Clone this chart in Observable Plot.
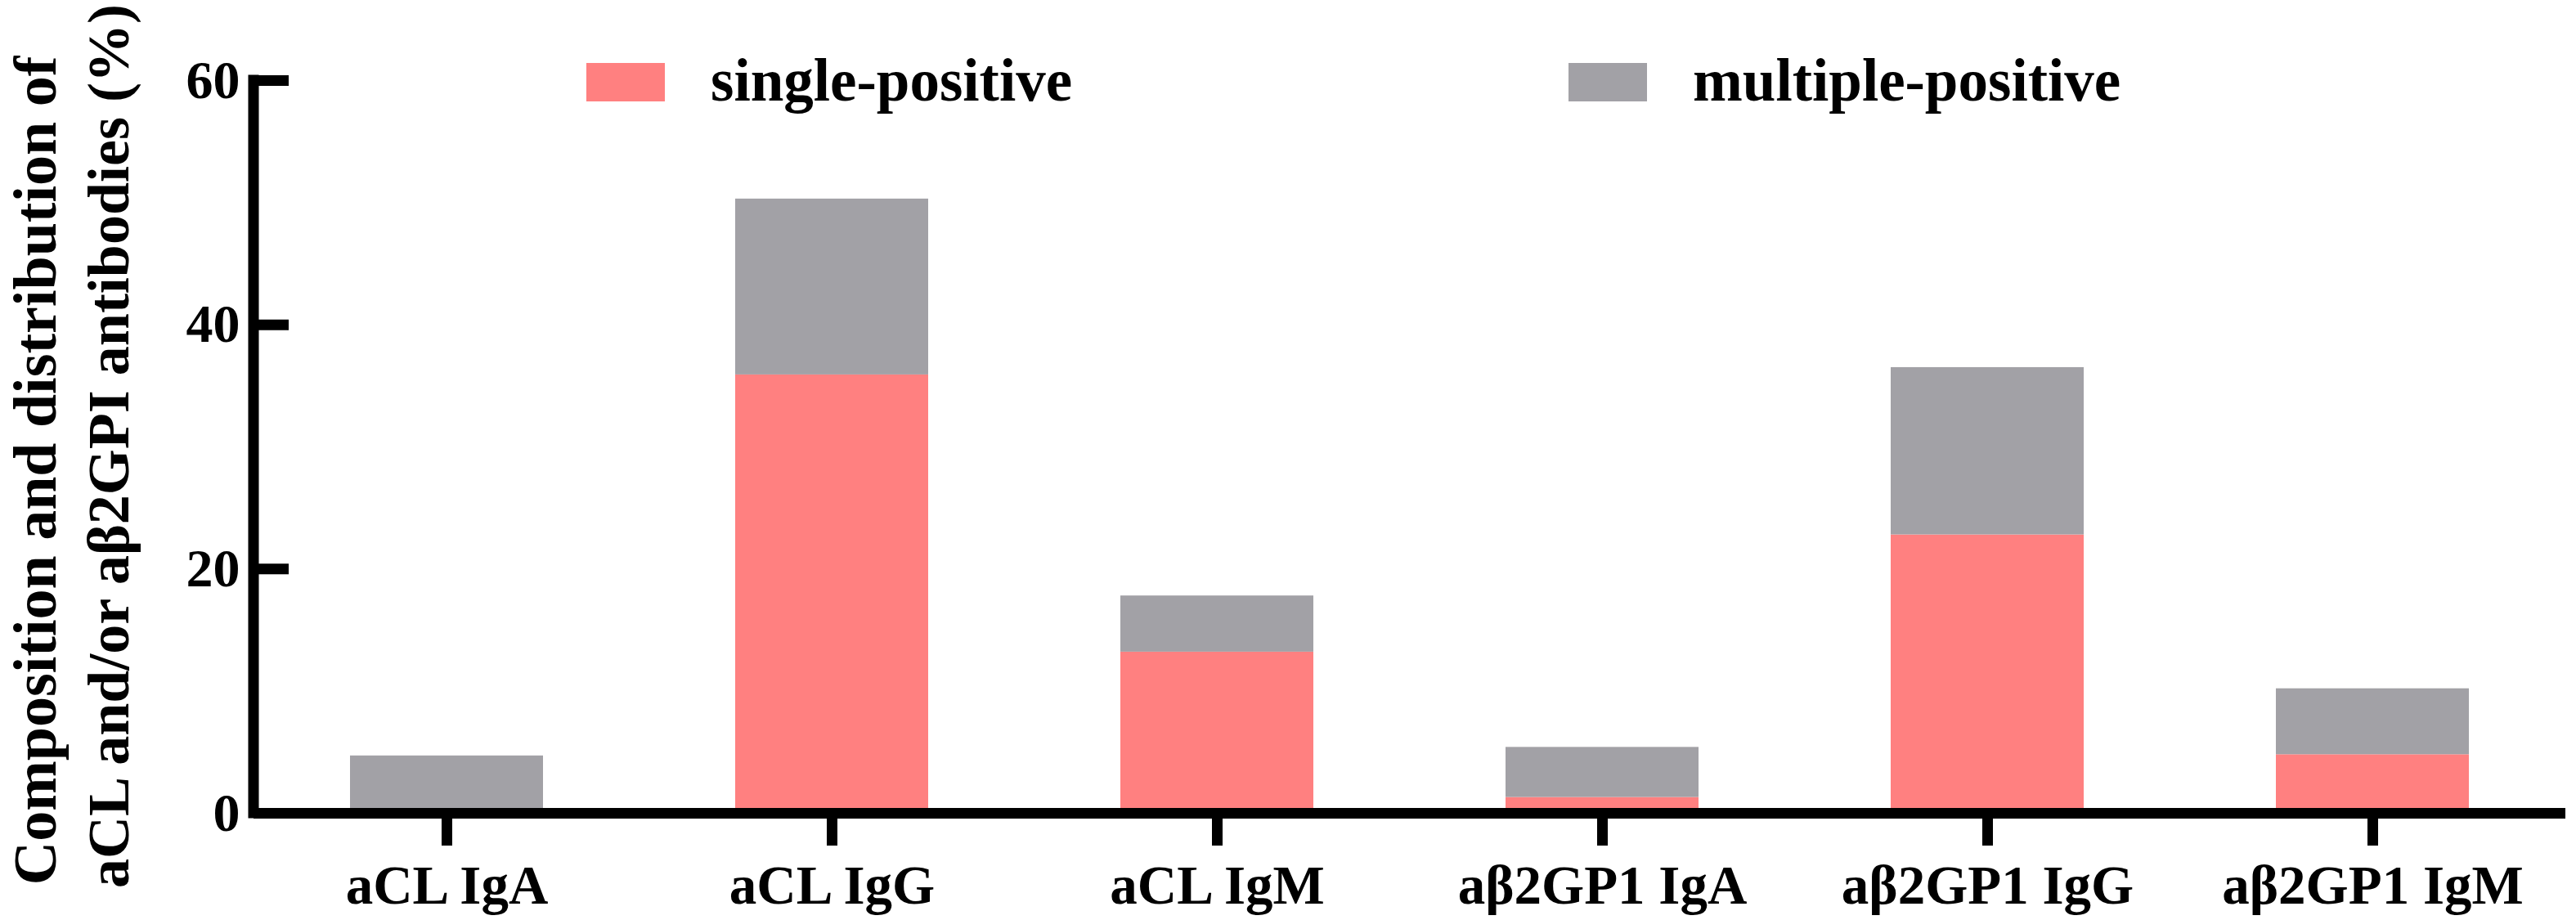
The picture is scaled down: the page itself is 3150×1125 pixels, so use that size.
<!DOCTYPE html>
<html>
<head>
<meta charset="utf-8">
<script src="https://cdn.jsdelivr.net/npm/d3@7"></script>
<script src="https://cdn.jsdelivr.net/npm/@observablehq/plot@0.6"></script>
<style>
  body { margin: 0; background: #fff; }
  #wrap { position: relative; width: 3150px; height: 1125px; font-family: 'Liberation Serif', 'Times New Roman', serif; font-weight: bold; }
  #wrap svg { display: block; font-family: 'Liberation Serif', 'Times New Roman', serif !important; font-weight: bold; }
  #wrap svg text { font-family: 'Liberation Serif', 'Times New Roman', serif; }
  .legend-item { position: absolute; top: 0; height: 150px; }
  .sw { position: absolute; left: 0; top: 77px; width: 96px; height: 47px; }
  .lb { position: absolute; left: 152px; top: 62px; font-size: 73px; line-height: 73px; white-space: nowrap; color: #000; font-family: 'Liberation Serif', 'Times New Roman', serif; }
</style>
</head>
<body>
<div id="wrap"></div>
<script>
const categories = ["aCL IgA", "aCL IgG", "aCL IgM", "aβ2GP1 IgA", "aβ2GP1 IgG", "aβ2GP1 IgM"];
const seriesNames = ["single-positive", "multiple-positive"];
const singlePositive = [0.3, 35.9, 13.2, 1.3, 22.8, 4.8];
const multiplePositive = [4.4, 14.4, 4.6, 4.1, 13.7, 5.4];
const yTicks = [0, 20, 40, 60];
const seriesColors = ["#FF8080", "#A2A1A6"];
const titleLines = ["Composition and distribution of", "aCL and/or aβ2GPI antibodies (%)"];

const seriesValues = [singlePositive, multiplePositive];
const table = [];
categories.forEach((c, i) => {
  seriesNames.forEach((s, j) => table.push({category: c, series: s, value: seriesValues[j][i]}));
});

const W = 3150, H = 1125;
const mL = 310, mR = 13, mT = 98, mB = 131;
const plotW = W - mL - mR;

const chart = Plot.plot({
  width: W,
  height: H,
  marginLeft: mL,
  marginRight: mR,
  marginTop: mT,
  marginBottom: mB,
  style: "font-family: 'Liberation Serif', 'Times New Roman', serif; font-weight: bold; background: white; color: black;",
  x: {domain: categories, paddingInner: 0.5, paddingOuter: 0.25, label: null},
  y: {domain: [0, 60], label: null},
  color: {domain: seriesNames, range: seriesColors},
  marks: [
    Plot.barY(table, {x: "category", y: "value", fill: "series"}),
    Plot.ruleY([0], {stroke: "black", strokeWidth: 13}),
    Plot.rect([0], {y1: 0, y2: 60, fill: "black", insetLeft: -6.5, insetRight: plotW - 6.5, insetTop: -6.5, insetBottom: -6.5}),
    Plot.tickY(yTicks, {y: d => d, stroke: "black", strokeWidth: 13, insetRight: plotW - 43}),
    Plot.axisY({ticks: yTicks, tickSize: 0, tickPadding: 17, fontSize: 66, fontWeight: "bold", label: null}),
    Plot.axisX({tickSize: 40, tickPadding: 23, strokeWidth: 13, fontSize: 67, fontWeight: "bold", label: null}),
    Plot.text([titleLines[0]], {text: d => d, frameAnchor: "left", rotate: -90, lineAnchor: "bottom", textAnchor: "middle", dx: -243, dy: 29, fontSize: 74, fontWeight: "bold", fill: "black"}),
    Plot.text([titleLines[1]], {text: d => d, frameAnchor: "left", rotate: -90, lineAnchor: "bottom", textAnchor: "middle", dx: -154, dy: -1, fontSize: 72, fontWeight: "bold", fill: "black"})
  ]
});

const wrap = document.getElementById("wrap");
wrap.appendChild(chart);

const legendLefts = [717, 1918];
seriesNames.forEach((name, i) => {
  const item = document.createElement("div");
  item.className = "legend-item";
  item.style.left = legendLefts[i] + "px";
  const sw = document.createElement("div");
  sw.className = "sw";
  sw.style.background = seriesColors[i];
  const lb = document.createElement("div");
  lb.className = "lb";
  lb.textContent = name;
  item.appendChild(sw);
  item.appendChild(lb);
  wrap.appendChild(item);
});
</script>
</body>
</html>
